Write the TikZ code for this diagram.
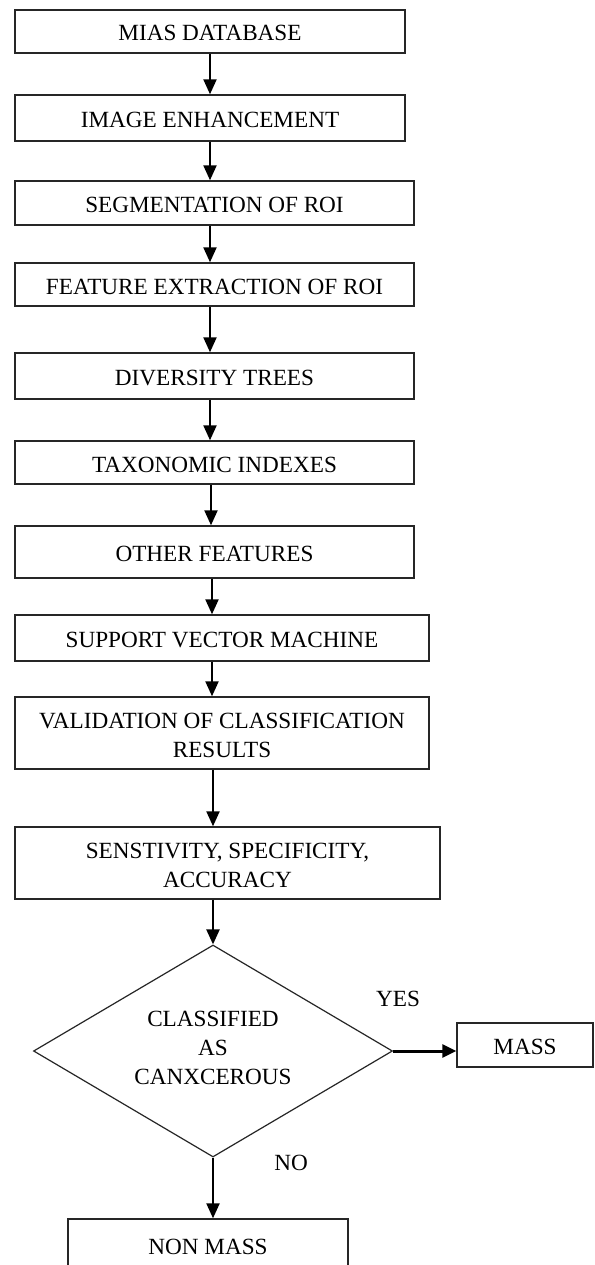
\documentclass[tikz,border=0pt]{standalone}
\usepackage{fontspec}
\setmainfont{Liberation Serif}
\usetikzlibrary{arrows.meta,shapes.geometric}
\begin{document}
\begin{tikzpicture}[x=1pt,y=-1pt,
  every node/.style={font=\fontsize{23.2}{29}\selectfont, inner sep=0pt, align=center},
  stepbox/.style={draw=black!85, line width=1.4pt, rectangle, text height=19pt, text depth=0pt},
  twobox/.style={draw=black!85, line width=1.4pt, rectangle, text height=49.5pt, text depth=0pt},
  decbox/.style={draw=black!85, line width=1.2pt, diamond, aspect=1.69, text depth=7pt, minimum width=359pt, minimum height=212pt},
  arr/.style={line width=2.2pt, -{Triangle[length=15pt,width=13pt]}},
  arrthick/.style={line width=3pt, -{Triangle[length=14pt,width=13pt]}},
  lbl/.style={font=\fontsize{23.2}{29}\selectfont}
]
\path[use as bounding box, clip] (0,0) rectangle (594,1265);
\fill[white] (0,0) rectangle (594,1265);

\node[stepbox, minimum width=390pt, minimum height=43pt] (b1) at (210,31.5) {MIAS DATABASE};
\node[stepbox, minimum width=390pt, minimum height=46pt] (b2) at (210,118) {IMAGE ENHANCEMENT};
\node[stepbox, minimum width=399pt, minimum height=44pt] (b3) at (214.5,203) {SEGMENTATION OF ROI};
\node[stepbox, minimum width=399pt, minimum height=43pt] (b4) at (214.5,284.5) {FEATURE EXTRACTION OF ROI};
\node[stepbox, minimum width=399pt, minimum height=46pt] (b5) at (214.5,376) {DIVERSITY TREES};
\node[stepbox, minimum width=399pt, minimum height=43pt] (b6) at (214.5,462.5) {TAXONOMIC INDEXES};
\node[stepbox, minimum width=399pt, minimum height=52pt] (b7) at (214.5,552) {OTHER FEATURES};
\node[stepbox, minimum width=414pt, minimum height=46pt] (b8) at (222,638) {SUPPORT VECTOR MACHINE};
\node[twobox, minimum width=414pt, minimum height=72pt] (b9) at (222,733) {VALIDATION OF CLASSIFICATION\\RESULTS};
\node[twobox, minimum width=425pt, minimum height=72pt] (b10) at (227.5,863) {SENSTIVITY, SPECIFICITY,\\ACCURACY};
\node[decbox] (d) at (213,1051) {CLASSIFIED\\AS\\CANXCEROUS};
\node[stepbox, minimum width=136pt, minimum height=44pt] (mass) at (525,1045) {MASS};
\node[stepbox, minimum width=280pt, minimum height=52pt] (nonmass) at (208,1245) {NON MASS};

\node[lbl] (yes) at (398,999) {YES};
\node[lbl] (no) at (291,1163) {NO};

\coordinate (c1) at (210,0);
\coordinate (c2) at (211,0);
\coordinate (c3) at (212,0);
\coordinate (c5) at (213,0);

\draw[arr] (b1.south -| c1) -- (b2.north -| c1);
\draw[arr] (b2.south -| c1) -- (b3.north -| c1);
\draw[arr] (b3.south -| c1) -- (b4.north -| c1);
\draw[arr] (b4.south -| c1) -- (b5.north -| c1);
\draw[arr] (b5.south -| c1) -- (b6.north -| c1);
\draw[arr] (b6.south -| c2) -- (b7.north -| c2);
\draw[arr] (b7.south -| c3) -- (b8.north -| c3);
\draw[arr] (b8.south -| c3) -- (b9.north -| c3);
\draw[arr] (b9.south -| c5) -- (b10.north -| c5);
\draw[arr] (b10.south -| d.north) -- (d.north);
\draw[arrthick] (d.east) -- (d.east -| mass.west);
\draw[arr] (d.south) -- (nonmass.north -| d.south);
\end{tikzpicture}
\end{document}
